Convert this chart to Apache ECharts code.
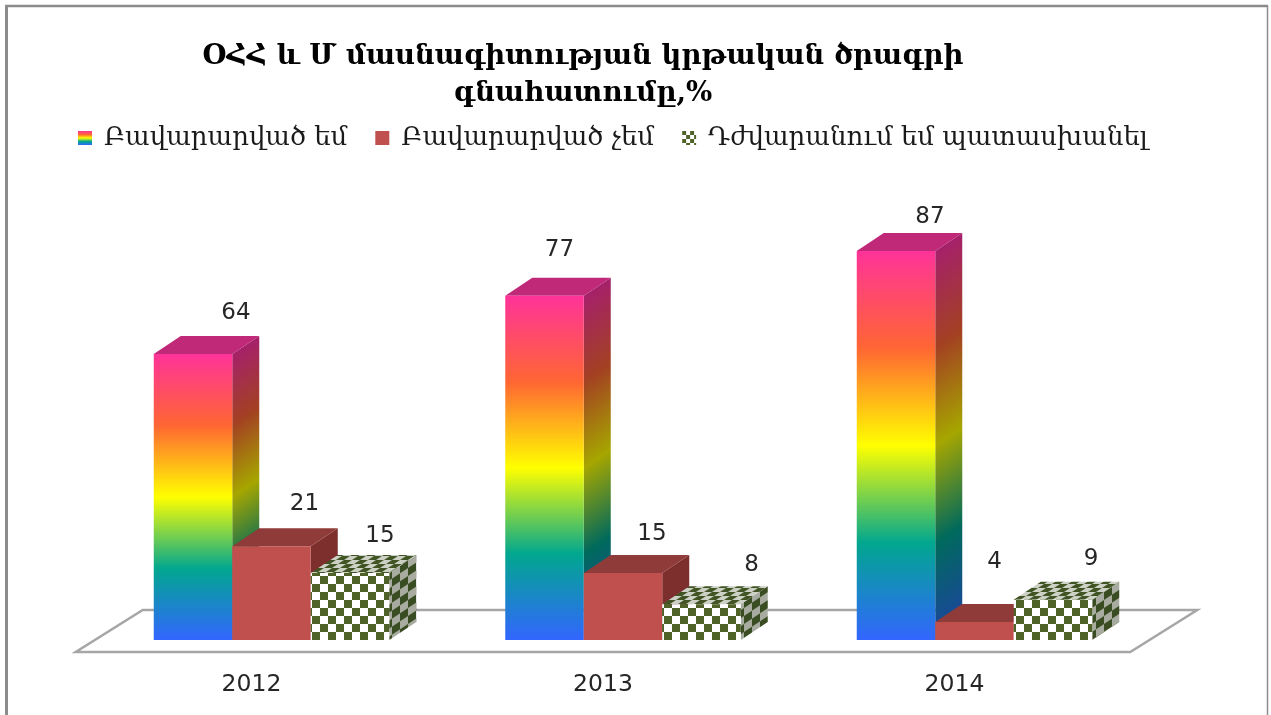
<!DOCTYPE html>
<html>
<head>
<meta charset="utf-8">
<title>chart</title>
<style>
html, body { margin: 0; padding: 0; background: #fff; }
#chart { width: 1271px; height: 715px; }
</style>
<script src="https://cdn.jsdelivr.net/npm/echarts@6/dist/echarts.min.js"></script>
</head>
<body>
<div id="chart"></div>
<script>
var titleLines = ['ՕՀՀ և Մ մասնագիտության կրթական ծրագրի', 'գնահատումը,%'];
var categories = ['2012', '2013', '2014'];
var seriesNames = ['Բավարարված եմ', 'Բավարարված չեմ', 'Դժվարանում եմ պատասխանել'];
var satisfied = [64, 77, 87];
var notSatisfied = [21, 15, 4];
var hardToAnswer = [15, 8, 9];

// value labels were placed by hand in the original, so each one has its own nudge
var satisfiedNudge = [[43, -41], [15, -46], [34, -34]];
var notSatisfiedNudge = [[33, -42], [29, -39], [20, -60]];
var hardNudge = [[30, -37], [50, -39], [38, -41]];

var depthX = 27, depthY = -18;
var barsPerBand = 4.478;
var textFont = '"DejaVu Sans", sans-serif';
var serifFont = '"DejaVu Serif", serif';

var rainbowStops = [
    { offset: 0, color: '#ff3399' },
    { offset: 0.25, color: '#ff6633' },
    { offset: 0.5, color: '#ffff00' },
    { offset: 0.75, color: '#01a78f' },
    { offset: 1, color: '#3366ff' }
];
var rainbowSideStops = [
    { offset: 0, color: '#a5216a' },
    { offset: 0.25, color: '#a34122' },
    { offset: 0.5, color: '#a6a600' },
    { offset: 0.75, color: '#006a5c' },
    { offset: 1, color: '#1c459f' }
];

// checker tile, cell sizes in px; skew shifts the rows/columns for the 3d faces
function checkerTile(w, h, cellU, cellV, skewU, skewV, dark, light) {
    var c = document.createElement('canvas');
    c.width = w;
    c.height = h;
    var ctx = c.getContext('2d');
    var img = ctx.createImageData(w, h);
    var n = 3;
    for (var y = 0; y < h; y++) {
        for (var x = 0; x < w; x++) {
            var hits = 0;
            for (var sy = 0; sy < n; sy++) {
                for (var sx = 0; sx < n; sx++) {
                    var px = x + (sx + 0.5) / n, py = y + (sy + 0.5) / n;
                    var u = Math.floor((px + skewU * py) / cellU);
                    var v = Math.floor((py + skewV * px) / cellV);
                    if ((u + v) % 2 === 0) hits++;
                }
            }
            var t = hits / (n * n), i = (y * w + x) * 4;
            img.data[i] = dark[0] * t + light[0] * (1 - t);
            img.data[i + 1] = dark[1] * t + light[1] * (1 - t);
            img.data[i + 2] = dark[2] * t + light[2] * (1 - t);
            img.data[i + 3] = 255;
        }
    }
    ctx.putImageData(img, 0, 0);
    return c;
}

var checkFront = { image: checkerTile(16, 16, 8, 8, 0, 0, [79, 98, 40], [255, 255, 255]), repeat: 'repeat' };
var checkSide = { image: checkerTile(48, 16, 8, 8, 0, 2 / 3, [58, 76, 34], [168, 172, 160]), repeat: 'repeat' };
var checkTop = { image: checkerTile(16, 32, 8, 4, 1.5, 0, [64, 84, 36], [205, 208, 196]), repeat: 'repeat' };
var checkLegend = { image: checkerTile(8, 8, 4, 4, 0, 0, [79, 98, 40], [255, 255, 255]), repeat: 'repeat' };

function rainbowSide(x, top, bottom) {
    var len = Math.sqrt(depthX * depthX + depthY * depthY);
    var nx = -depthY / len, ny = depthX / len;
    var d = (bottom - top) * ny;
    return new echarts.graphic.LinearGradient(x, top, x + nx * d, top + ny * d, rainbowSideStops, true);
}

var painters = [
    {
        front: function () { return new echarts.graphic.LinearGradient(0, 0, 0, 1, rainbowStops); },
        side: rainbowSide,
        top: '#c02878'
    },
    {
        front: function () { return '#c0504d'; },
        side: function () { return '#7c2f2d'; },
        top: '#8f3b39'
    },
    {
        front: function () { return checkFront; },
        side: function () { return checkSide; },
        top: checkTop
    }
];

function barRenderer(slot, nudges) {
    var paint = painters[slot];
    return function (params, api) {
        var cat = api.value(0);
        var val = api.value(1);
        var base = api.coord([cat, 0]);
        var head = api.coord([cat, val]);
        var w = api.size([1, 0])[0] / barsPerBand;
        var x0 = base[0] + (slot - 1) * w - w / 2;
        var x1 = x0 + w;
        var y0 = head[1];
        var y1 = base[1];
        var nudge = nudges[params.dataIndex];
        return {
            type: 'group',
            children: [
                {
                    type: 'polygon',
                    shape: { points: [[x1, y0], [x1 + depthX, y0 + depthY], [x1 + depthX, y1 + depthY], [x1, y1]] },
                    style: { fill: paint.side(x1, y0, y1) }
                },
                {
                    type: 'polygon',
                    shape: { points: [[x0, y0], [x0 + depthX, y0 + depthY], [x1 + depthX, y0 + depthY], [x1, y0]] },
                    style: { fill: paint.top }
                },
                {
                    type: 'rect',
                    shape: { x: x0, y: y0, width: x1 - x0, height: y1 - y0 },
                    style: { fill: paint.front() }
                },
                {
                    type: 'text',
                    z2: 50,
                    style: {
                        x: (x0 + x1) / 2 + nudge[0],
                        y: y0 + nudge[1],
                        text: String(val),
                        fill: '#262626',
                        font: '23px ' + textFont,
                        align: 'center',
                        verticalAlign: 'middle'
                    }
                }
            ]
        };
    };
}

function renderFloor(params, api) {
    var sys = params.coordSys;
    var y = api.coord([0, 0])[1];
    var l = sys.x, r = sys.x + sys.width;
    return {
        type: 'polygon',
        shape: { points: [[l - 20, y + 12], [r - 20, y + 12], [r + 47, y - 30], [l + 47, y - 30]] },
        style: { fill: '#fff', stroke: '#a6a6a6', lineWidth: 2.5 }
    };
}

function toPairs(values) {
    var out = [];
    for (var i = 0; i < values.length; i++) {
        out.push([i, values[i]]);
    }
    return out;
}

function frameLine(points, width) {
    return {
        type: 'polyline',
        silent: true,
        shape: { points: points },
        style: { fill: 'none', stroke: '#8c8c8c', lineWidth: width }
    };
}

var myChart = echarts.init(document.getElementById('chart'), null, { renderer: 'canvas' });
var option = {
    animation: false,
    backgroundColor: '#fff',
    title: {
        text: titleLines.join('\n'),
        left: 578,
        top: 33,
        textAlign: 'center',
        textStyle: {
            fontFamily: serifFont,
            fontWeight: 'bold',
            fontSize: 27.6,
            lineHeight: 37,
            color: '#000'
        }
    },
    legend: {
        left: 73,
        top: 120,
        itemWidth: 14,
        itemHeight: 14,
        itemGap: 28,
        icon: 'rect',
        data: seriesNames,
        textStyle: { fontFamily: serifFont, fontSize: 26, color: '#1a1a1a', padding: [0, 0, 0, 7] }
    },
    grid: { left: 95.75, right: 120.75, top: 193, bottom: 75 },
    xAxis: {
        type: 'category',
        data: categories,
        axisLine: { show: false },
        axisTick: { show: false },
        axisLabel: {
            margin: 33,
            padding: [0, 40, 0, 0],
            fontFamily: textFont,
            fontSize: 23.5,
            color: '#262626'
        }
    },
    yAxis: { type: 'value', min: 0, max: 100, show: false },
    graphic: [
        frameLine([[6.5, 720], [6.5, 5]], 3),
        frameLine([[5, 6], [1268, 6]], 2.5),
        frameLine([[1267.5, 5], [1267.5, 720]], 1.5)
    ],
    series: [
        { type: 'custom', name: 'floor', silent: true, renderItem: renderFloor, data: [[0, 0]], encode: { x: 0, y: 1 } },
        {
            type: 'custom', name: seriesNames[0], renderItem: barRenderer(0, satisfiedNudge),
            data: toPairs(satisfied), encode: { x: 0, y: 1 },
            itemStyle: { color: new echarts.graphic.LinearGradient(0, 0, 0, 1, rainbowStops) }
        },
        {
            type: 'custom', name: seriesNames[1], renderItem: barRenderer(1, notSatisfiedNudge),
            data: toPairs(notSatisfied), encode: { x: 0, y: 1 },
            itemStyle: { color: '#c0504d' }
        },
        {
            type: 'custom', name: seriesNames[2], renderItem: barRenderer(2, hardNudge),
            data: toPairs(hardToAnswer), encode: { x: 0, y: 1 },
            itemStyle: { color: checkLegend }
        }
    ]
};
myChart.setOption(option);
</script>
</body>
</html>
